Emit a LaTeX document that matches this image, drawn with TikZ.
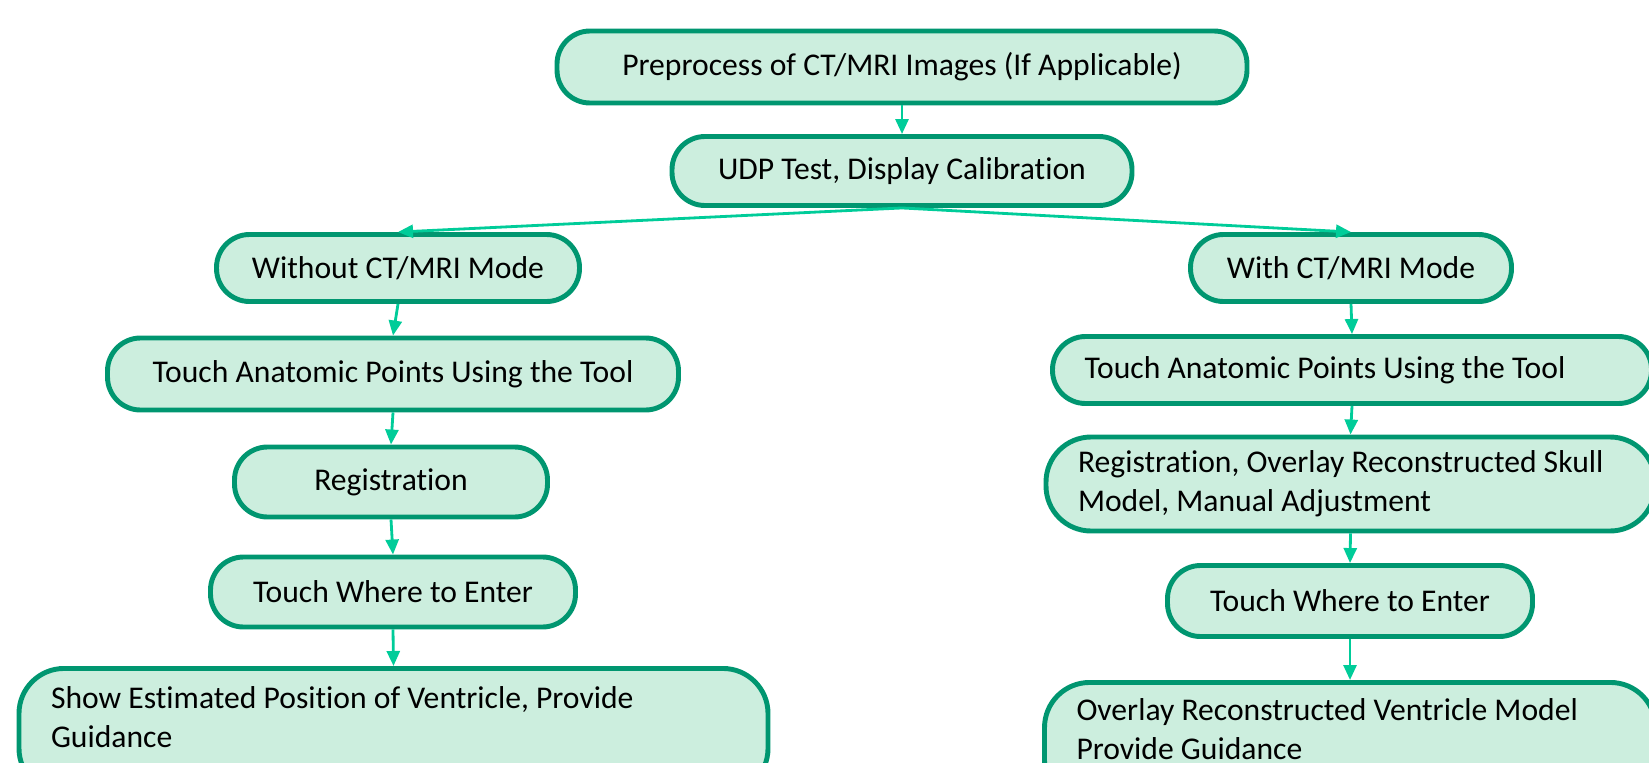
\documentclass[tikz,border=0pt]{standalone}
\usepackage{fontspec}
\setmainfont{Carlito}[Ligatures=NoCommon]
\usetikzlibrary{arrows.meta, positioning}
\usepackage{xcolor}
\definecolor{stepline}{RGB}{0,150,112}
\definecolor{stepfill}{RGB}{204,238,222}
\definecolor{flowarrow}{RGB}{0,204,153}

\begin{document}
\begin{tikzpicture}[
    stepbox/.style={draw=stepline, line width=1.4pt, fill=stepfill, rounded corners=0.33cm, inner sep=0pt, font=\fontsize{9}{11.1}\selectfont},
    widebox/.style={stepbox, text width=#1, align=flush left, inner xsep=0.32cm, rounded corners=0.45cm},
    flow/.style={draw=flowarrow, line width=0.8pt, -{Triangle[length=0.15cm, width=0.13cm]}},
]
\useasboundingbox (0,0) rectangle (16.49,-7.62);
\clip (0,0) rectangle (16.49,-7.62);

% common steps
\node[stepbox, minimum width=6.90cm, minimum height=0.72cm] (pre) at (9.02,-0.67) {Preprocess of CT/MRI Images (If Applicable)};
\node[stepbox, minimum width=4.60cm, minimum height=0.69cm] (udp) at (9.02,-1.71) {UDP Test, Display Calibration};

% without CT/MRI branch
\node[stepbox, minimum width=3.63cm, minimum height=0.67cm] (wo) at (3.98,-2.68) {Without CT/MRI Mode};
\node[stepbox, minimum width=5.71cm, minimum height=0.72cm] (woTouch) at (3.93,-3.74) {Touch Anatomic Points Using the Tool};
\node[stepbox, minimum width=3.13cm, minimum height=0.70cm] (woReg) at (3.91,-4.82) {Registration};
\node[stepbox, minimum width=3.65cm, minimum height=0.70cm] (woEnter) at (3.93,-5.92) {Touch Where to Enter};
\node[widebox=6.85cm, anchor=north, inner ysep=0.1cm, text height=0.30cm, text depth=0.75cm] (woShow) at (3.935,-6.66) {Show Estimated Position of Ventricle, Provide\\Guidance};

% with CT/MRI branch
\node[stepbox, minimum width=3.21cm, minimum height=0.67cm] (w) at (13.51,-2.68) {With CT/MRI Mode};
\node[widebox=5.35cm, minimum height=0.67cm, rounded corners=0.33cm] (wTouch) at (13.52,-3.70) {Touch Anatomic Points Using the Tool};
\node[widebox=5.45cm, minimum height=0.94cm] (wReg) at (13.505,-4.84) {Registration, Overlay Reconstructed Skull\\Model, Manual Adjustment};
\node[stepbox, minimum width=3.65cm, minimum height=0.71cm] (wEnter) at (13.50,-6.01) {Touch Where to Enter};
\node[widebox=5.47cm, anchor=north, inner ysep=0.1cm, text height=0.28cm, text depth=0.75cm] (wOver) at (13.50,-6.80) {Overlay Reconstructed Ventricle Model\\Provide Guidance};

% connectors
\draw[flow] (pre.south) -- (udp.north);
\draw[flow] (udp.south) -- (wo.north);
\draw[flow] (udp.south) -- (w.north);
\draw[flow] (wo.south) -- (woTouch.north);
\draw[flow] (woTouch.south) -- (woReg.north);
\draw[flow] (woReg.south) -- (woEnter.north);
\draw[flow] (woEnter.south) -- (woShow.north);
\draw[flow] (w.south) -- (wTouch.north);
\draw[flow] (wTouch.south) -- (wReg.north);
\draw[flow] (wReg.south) -- (wEnter.north);
\draw[flow] (wEnter.south) -- (wOver.north);

\end{tikzpicture}
\end{document}
